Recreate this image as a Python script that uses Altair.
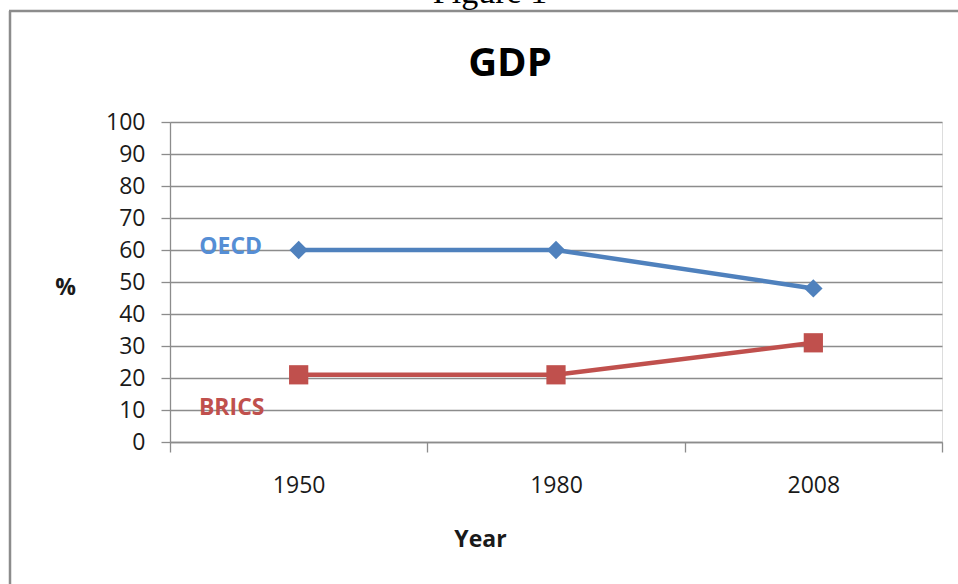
import altair as alt
import pandas as pd

# Series values per year
years = ["1950", "1980", "2008"]
oecd = [60, 60, 48]
brics = [21, 21, 31]
series_names = ["OECD", "BRICS"]
line_colors = ["#4F81BD", "#C0504D"]
label_colors = ["#558ED5", "#C0504D"]
marker_shapes = ["diamond", "square"]
y_ticks = [0, 10, 20, 30, 40, 50, 60, 70, 80, 90, 100]
caption = ["Figure 1"]
chart_title = ["GDP"]

rows = []
for name, vals in zip(series_names, [oecd, brics]):
    for yr, v in zip(years, vals):
        rows.append({"series": name, "year": yr, "value": v})
df = pd.DataFrame(rows)

W, H = 772, 320
FONT = "Open Sans"
GREY = "#8c8c8c"
TEXT = "#1a1a1a"

x_enc = alt.X(
    "year:O",
    sort=years,
    bandPosition=0.5,
    scale=alt.Scale(type="band", paddingInner=0, paddingOuter=0),
    axis=alt.Axis(
        title="Year",
        labelAngle=0,
        tickBand="extent",
        grid=False,
        domainColor=GREY,
        domainWidth=1.3,
        tickColor=GREY,
        tickWidth=1.3,
        tickSize=10,
        labelPadding=22,
        labelFont=FONT,
        labelFontSize=23,
        labelColor=TEXT,
        titleFont=FONT,
        titleFontSize=23,
        titleFontWeight="bold",
        titleColor=TEXT,
        titleX=310,
        titleY=97,
        titleAlign="center",
        titleBaseline="middle",
    ),
)
y_enc = alt.Y(
    "value:Q",
    scale=alt.Scale(domain=[0, 100], nice=False, zero=True),
    axis=alt.Axis(
        title="%",
        values=y_ticks,
        titleAngle=0,
        grid=True,
        gridColor=GREY,
        gridWidth=1.3,
        domainColor=GREY,
        domainWidth=1.3,
        tickColor=GREY,
        tickWidth=1.3,
        tickSize=9,
        labelPadding=16,
        labelFont=FONT,
        labelFontSize=23,
        labelColor=TEXT,
        titleFont=FONT,
        titleFontSize=23,
        titleFontWeight="bold",
        titleColor=TEXT,
        titleX=-105,
        titleY=165,
        titleAlign="center",
        titleBaseline="middle",
    ),
)
color_enc = alt.Color(
    "series:N",
    scale=alt.Scale(domain=series_names, range=line_colors),
    legend=None,
)

base = alt.Chart(df)

lines = base.mark_line(strokeWidth=4.5).encode(x=x_enc, y=y_enc, color=color_enc, detail="series:N")

points = base.mark_point(filled=True, opacity=1).encode(
    x=x_enc,
    y=y_enc,
    color=color_enc,
    shape=alt.Shape("series:N", scale=alt.Scale(domain=series_names, range=marker_shapes), legend=None),
    size=alt.Size("series:N", scale=alt.Scale(domain=series_names, range=[340, 370]), legend=None),
)

# Series name labels beside the first point of each line
oecd_label = base.transform_filter(
    (alt.datum.series == "OECD") & (alt.datum.year == years[0])
).mark_text(
    font=FONT, fontSize=23, fontWeight="bold", color=label_colors[0], dx=-68, dy=-3
).encode(x=x_enc, y=y_enc, text="series:N")

brics_label = base.transform_filter(
    (alt.datum.series == "BRICS") & (alt.datum.year == years[0])
).mark_text(
    font=FONT, fontSize=23, fontWeight="bold", color=label_colors[1], dx=-67, dy=33
).encode(x=x_enc, y=y_enc, text="series:N")

# Outer chart frame, figure caption and chart heading
one = pd.DataFrame({"k": [0]})
frame_left = alt.Chart(one).mark_rule(color=GREY, strokeWidth=2.5).encode(
    x=alt.value(-160), y=alt.value(-111), y2=alt.value(H + 200)
)
frame_top = alt.Chart(one).mark_rule(color=GREY, strokeWidth=2.5).encode(
    x=alt.value(-161), x2=alt.value(W + 100), y=alt.value(-111)
)
fig_caption = alt.Chart(pd.DataFrame({"caption": caption})).mark_text(
    font="Liberation Serif", fontSize=34, color="black", align="center", baseline="alphabetic"
).encode(x=alt.value(320), y=alt.value(-119), text="caption:N")
heading = alt.Chart(pd.DataFrame({"heading": chart_title})).mark_text(
    font=FONT, fontSize=40, fontWeight="bold", color="black", align="center", baseline="alphabetic"
).encode(x=alt.value(340), y=alt.value(-46), text="heading:N")

chart = alt.layer(
    frame_left, frame_top, fig_caption, heading, lines, points, oecd_label, brics_label
).properties(
    width=W,
    height=H,
    padding={"left": 170, "top": 122, "right": 16, "bottom": 142},
    autosize=alt.AutoSizeParams(type="none"),
).configure_view(stroke="transparent").configure(background="white")

chart.save("out.html", embed_options={"renderer": "svg", "actions": False})
